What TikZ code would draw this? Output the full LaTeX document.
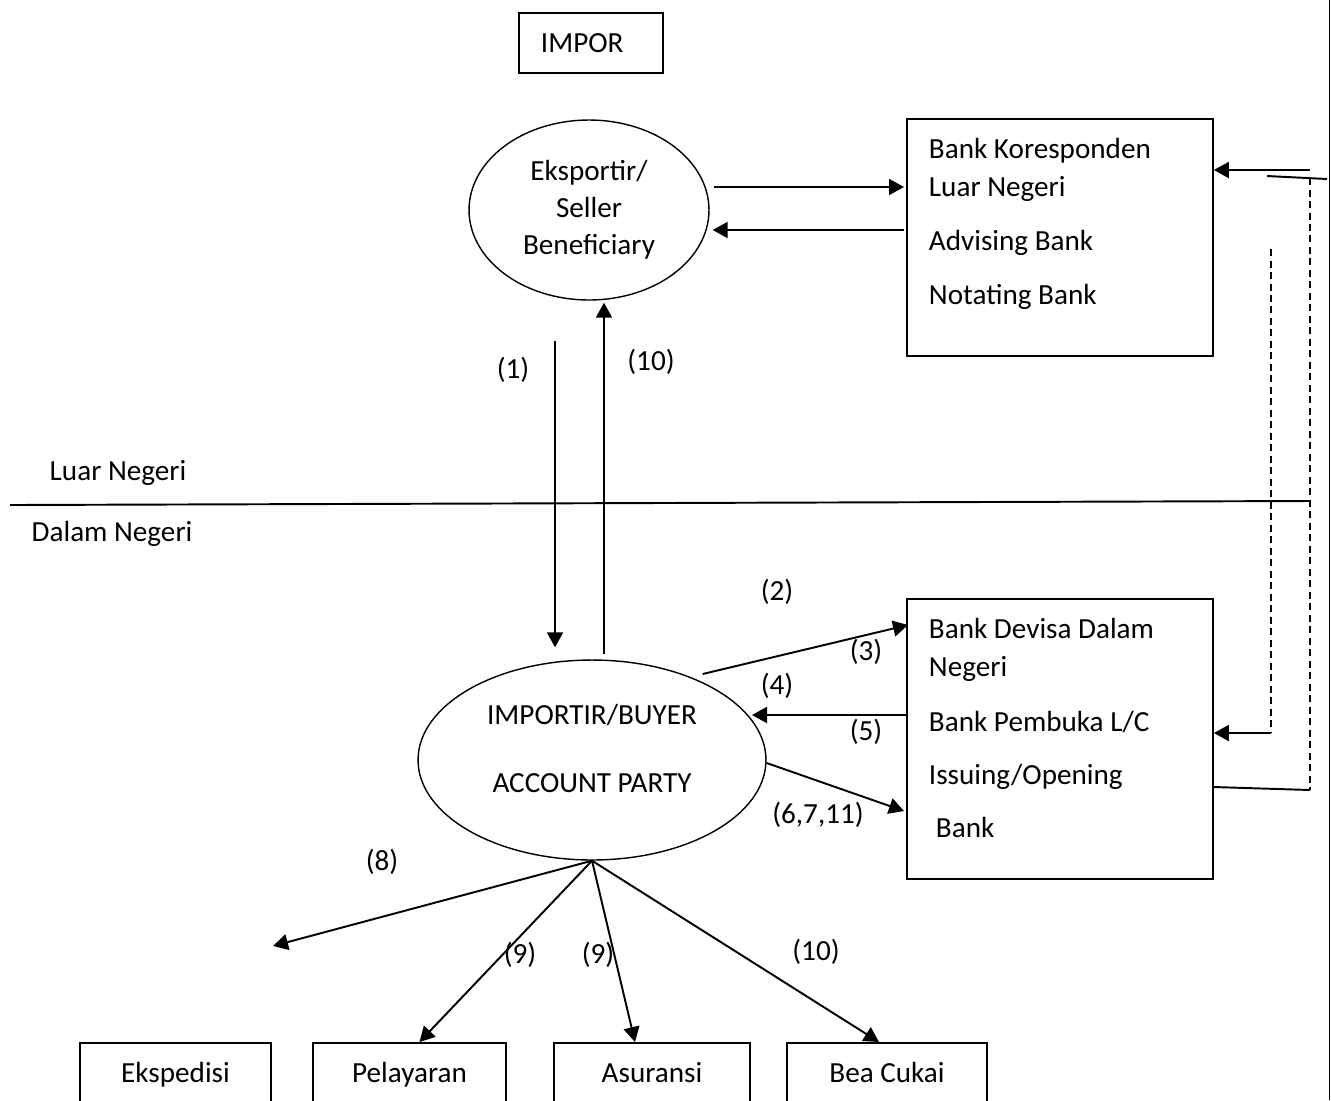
\documentclass[tikz,border=0pt]{standalone}
\usepackage{fontspec}
\setmainfont{Carlito}
\usepackage{tikz}
\usetikzlibrary{arrows.meta,shapes.geometric}

\tikzset{
  box/.style={draw, line width=1.1pt, inner xsep=0.44cm, inner ysep=0.38cm},
  footbox/.style={box, anchor=north, minimum height=1.3cm, inner ysep=0pt, text height=0.4cm, text depth=0.12cm},
  oval/.style={draw, ellipse, line width=0.8pt},
  arr/.style={line width=1.1pt, -{Triangle[length=0.3cm,width=0.32cm]}},
  plain/.style={line width=1.1pt},
  dashline/.style={line width=1.1pt, dash pattern=on 0.14cm off 0.09cm}
}

\begin{document}
\begin{tikzpicture}[x=0.02cm, y=-0.02cm, every node/.style={font=\fontsize{16.6}{21.6}\selectfont}]
\useasboundingbox (0,0) rectangle (1331,1100);

\node [box, anchor=north west, text width=2cm, minimum height=1.2cm, inner ysep=0pt, align=left] (impor) at (518,12) {IMPOR};

\node [oval, minimum width=4.8cm, minimum height=3.6cm, align=center, font=\fontsize{16.6}{21}\selectfont] (eksportir) at (589,210) {Eksportir/\\Seller\\Beneficiary};

\node [box, anchor=north west] (koresponden) at (906,118) {
\begin{minipage}[t][3.98cm][t]{5.24cm}
Bank Koresponden\\
Luar Negeri\\[0.32cm]
Advising Bank\\[0.32cm]
Notating Bank
\end{minipage} };

\node [box, anchor=north west] (devisa) at (906,598) {
\begin{minipage}[t][4.84cm][t]{5.24cm}
Bank Devisa Dalam\\
Negeri\\[0.34cm]
Bank Pembuka L/C\\[0.3cm]
Issuing/Opening\\[0.3cm]
\hspace*{0.14cm}Bank
\end{minipage} };

\node [oval, minimum width=6.96cm, minimum height=4cm] (importir) at (592,760) {};
\node [align=center] (importirtext) at (592,748) {IMPORTIR/BUYER\\[0.6cm]ACCOUNT PARTY};

\node [footbox, minimum width=3.82cm] (ekspedisi) at (175.5,1042) {Ekspedisi};
\node [footbox, minimum width=3.86cm] (pelayaran) at (409.5,1042) {Pelayaran};
\node [footbox, minimum width=3.92cm] (asuransi) at (652,1042) {Asuransi};
\node [footbox, minimum width=4cm] (beacukai) at (887,1042) {Bea Cukai};

\node (luar) at (118,473) {Luar Negeri};
\node (dalam) at (112,534) {Dalam Negeri};
\node (lone) at (513,370) {(1)};
\node (ltena) at (651,362) {(10)};
\node (ltwo) at (777,592) {(2)};
\node (lthree) at (866,652) {(3)};
\node (lfour) at (777,686) {(4)};
\node (lfive) at (866,732) {(5)};
\node (lsix) at (818,815) {(6,7,11)};
\node (leight) at (382,862) {(8)};
\node (lninea) at (520,955) {(9)};
\node (lnineb) at (598,955) {(9)};
\node (ltenb) at (816,952) {(10)};

\coordinate (rtop) at (1310,170);
\coordinate (tickl) at (1267,176);
\coordinate (tickr) at (1327,179);
\coordinate (outtop) at (1310,178);
\coordinate (outbot) at (1310,790);
\coordinate (intop) at (1271,249);
\coordinate (inbot) at (1271,733);
\coordinate (ekspend) at (273,946);

\draw [arr] ([shift={(-34,40)}]eksportir.south) -- ([shift={(-37,-12)}]importir.north);
\draw [arr] ([shift={(12,-5)}]importir.north) -- ([shift={(15,2)}]eksportir.south);
\draw [arr] ([shift={(4,-23)}]eksportir.east) -- ([shift={(-2,69)}]koresponden.north west);
\draw [arr] ([shift={(-2,112)}]koresponden.north west) -- ([shift={(3,20)}]eksportir.east);

\draw [arr] (rtop) -- ([shift={(0,52)}]koresponden.north east);
\draw [plain] (tickl) -- (tickr);
\draw [dashline] (outtop) -- (outbot);
\draw [dashline] (intop) -- (inbot);
\draw [arr] (inbot) -- ([shift={(0,135)}]devisa.north east);
\draw [plain] ([shift={(0,189)}]devisa.north east) -- (outbot);

\draw [plain] (10,505) -- (1310,501);
\draw [plain] (1329.5,0) -- (1329.5,1100);

\draw [arr] ([shift={(7,-5)}]importir.38) -- ([shift={(2,27)}]devisa.north west);
\draw [arr] ([shift={(0,117)}]devisa.north west) -- ([shift={(160,-45)}]importir.center);
\draw [arr] ([shift={(0,3)}]importir.east) -- ([shift={(-2,213)}]devisa.north west);

\draw [arr] (importir.south) -- (ekspend);
\draw [arr] (importir.south) -- ([shift={(10,0)}]pelayaran.north);
\draw [arr] (importir.south) -- ([shift={(-17,0)}]asuransi.north);
\draw [arr] (importir.south) -- ([shift={(-8,0)}]beacukai.north);
\end{tikzpicture}
\end{document}
